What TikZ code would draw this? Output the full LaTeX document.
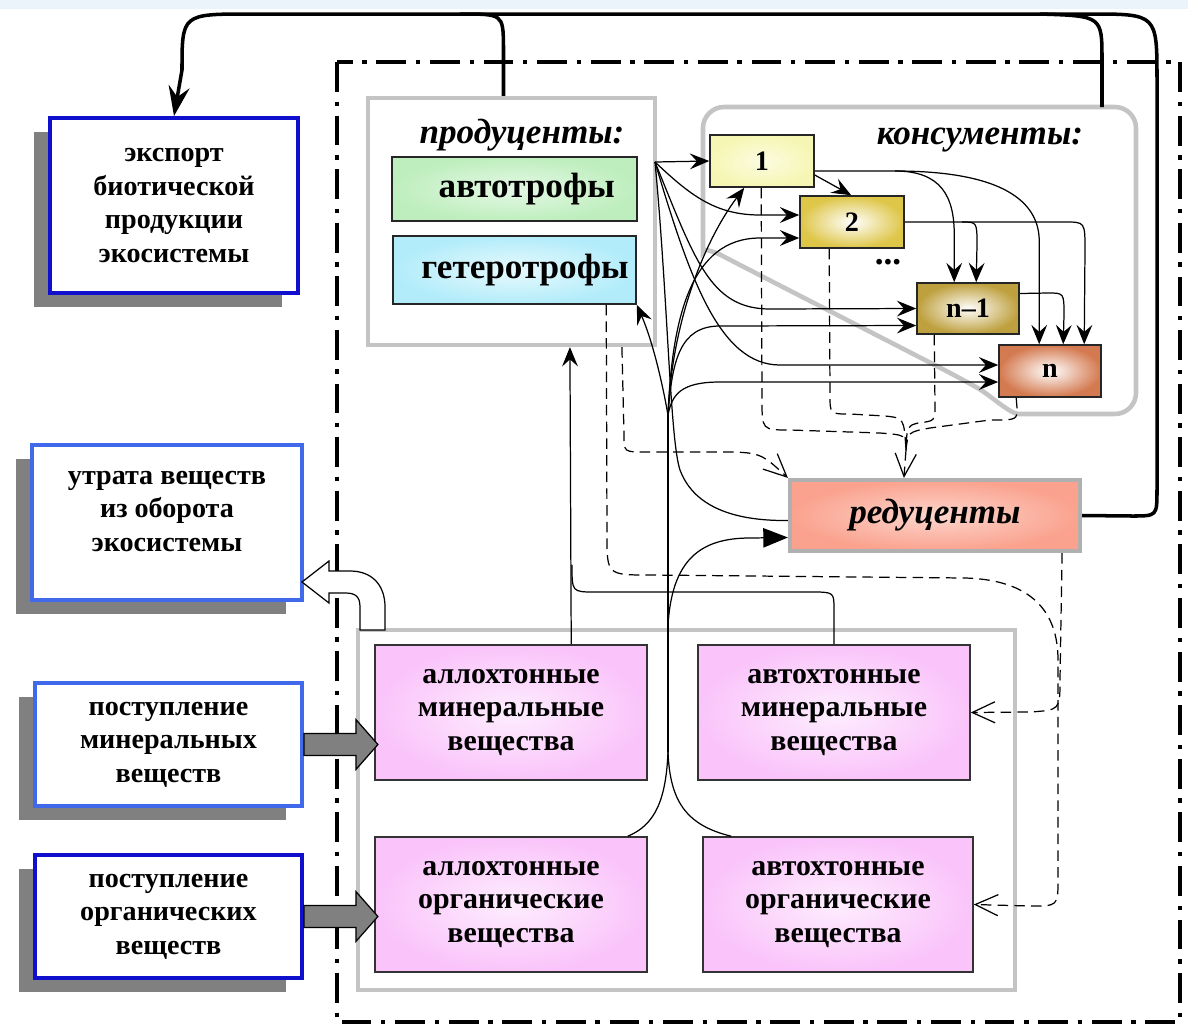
\documentclass[tikz,border=0pt]{standalone}
\usepackage{fontspec}
\setmainfont{Liberation Serif}
\usetikzlibrary{arrows.meta,calc,positioning,shadows}
\definecolor{deepblue}{RGB}{15,15,205}
\definecolor{softblue}{RGB}{65,105,235}
\definecolor{shadowgray}{RGB}{128,128,128}
\definecolor{framegray}{RGB}{196,196,196}
\definecolor{autogreen}{RGB}{190,238,190}
\definecolor{hetcyan}{RGB}{178,236,250}
\definecolor{firstyellow}{RGB}{246,246,180}
\definecolor{secondyellow}{RGB}{222,198,72}
\definecolor{olivegold}{RGB}{190,160,62}
\definecolor{rustorange}{RGB}{212,122,80}
\definecolor{salmon}{RGB}{250,162,142}
\definecolor{lilac}{RGB}{250,196,250}
\definecolor{topstrip}{RGB}{234,244,250}

\begin{document}
\begin{tikzpicture}[x=0.02cm,y=-0.02cm,>={Stealth[length=11pt,width=9pt,inset=4pt]}]
    \tikzstyle{outbox}=[draw,line width=2.2pt,fill=white,inner sep=0pt,align=center,
        font=\fontsize{16}{19}\selectfont\bfseries,
        drop shadow={shadow xshift=-0.32cm,shadow yshift=-0.28cm,fill=shadowgray,opacity=1}]
    \tikzstyle{grayframe}=[draw=framegray,line width=2.4pt,fill=white,inner sep=0pt]
    \tikzstyle{subbox}=[draw=black!85,line width=0.9pt,inner sep=0pt,align=center,
        font=\fontsize{20}{24}\selectfont\bfseries]
    \tikzstyle{consbox}=[draw=black!85,line width=0.9pt,inner sep=0pt,
        font=\fontsize{16}{19}\selectfont\bfseries]
    \tikzstyle{lilacbox}=[draw=black!80,line width=0.9pt,inner sep=0pt,align=center,
        inner color=white!70!lilac,outer color=lilac,minimum width=5.44cm,minimum height=2.7cm,
        font=\fontsize{17}{19}\selectfont\bfseries]
    \tikzstyle{title}=[font=\fontsize{20}{24}\selectfont\bfseries\itshape]
    \tikzstyle{flow}=[line width=0.7pt]
    \tikzstyle{backflow}=[line width=0.7pt,dash pattern=on 6pt off 3.5pt]
    \tikzstyle{opentip}=[-{Straight Barb[length=13pt,width=12pt]}]
    \tikzstyle{loopline}=[line width=2pt]
    \tikzstyle{fatarrow}=[draw=black,line width=0.7pt,fill=shadowgray]

    \useasboundingbox (0,0) rectangle (1188,1029);
    \fill[topstrip] (0,0) rectangle (1188,9);

    % ecosystem boundary
    \draw[line width=2.2pt,dash pattern=on 17pt off 5.5pt on 2.5pt off 5.5pt] (337,62) rectangle (1180,1022);

    % consumers area
    \draw[framegray,line width=2.6pt,rounded corners=12pt] (703,230) -- (703,107) -- (1136,107) -- (1136,414) -- (1040,414)
        .. controls (1010,414) and (990,395) .. (960,378) -- (740,265) .. controls (715,252) and (703,248) .. cycle;
    \node[title] (constitle) at (980,140) {консументы:};

    % outside boxes
    \node[outbox,draw=deepblue,minimum width=4.96cm,minimum height=3.5cm] (exp) at (174,205.5)
        {экспорт\\биотической\\продукции\\экосистемы};
    \node[outbox,draw=softblue,minimum width=5.4cm,minimum height=3.1cm] (loss) at (167,522.5)
        {утрата веществ\\из оборота\\экосистемы\\[-6pt]};
    \node[outbox,draw=softblue,minimum width=5.34cm,minimum height=2.46cm] (inmin) at (168.5,744.5)
        {поступление\\минеральных\\веществ};
    \node[outbox,draw=deepblue,minimum width=5.34cm,minimum height=2.46cm] (inorg) at (168.5,916.5)
        {поступление\\органических\\веществ};

    % producers
    \node[grayframe,minimum width=5.74cm,minimum height=4.94cm] (prod) at (511.5,221.5) {};
    \node[title] (prodtitle) at (522,135) {продуценты:};
    \node[subbox,inner color=white!60!autogreen,outer color=autogreen,minimum width=4.9cm,minimum height=1.28cm] (auto) at (514.5,189) {\hspace{14pt}автотрофы};
    \node[subbox,inner color=white!70!hetcyan,outer color=hetcyan,minimum width=4.86cm,minimum height=1.36cm] (het) at (514.5,270) {\hspace{12pt}гетеротрофы};

    % consumers
    \node[consbox,inner color=white!60!firstyellow,outer color=firstyellow,minimum width=2.08cm,minimum height=1.04cm] (c1) at (762,161) {1};
    \node[consbox,inner color=white,outer color=secondyellow,minimum width=2.08cm,minimum height=1.04cm] (c2) at (852,222) {2};
    \node[font=\fontsize{20}{24}\selectfont\bfseries] (dots) at (888,262) {...};
    \node[consbox,inner color=white,outer color=olivegold,minimum width=2.04cm,minimum height=1.02cm] (cn1) at (968,308.5) {n–1};
    \node[consbox,inner color=white,outer color=rustorange,minimum width=2.04cm,minimum height=1.04cm] (cn) at (1050,371) {n};

    % reducers
    \node[draw=framegray!90!black,line width=2.4pt,inner color=white!55!salmon,outer color=salmon,
        minimum width=5.8cm,minimum height=1.42cm,title] (red) at (935,515.5) {редуценты};

    % matter pool
    \node[grayframe,minimum width=13.14cm,minimum height=7.2cm] (grp) at (686.5,810) {};
    \node[lilacbox] (allmin) at (511,712.5) {аллохтонные\\минеральные\\вещества};
    \node[lilacbox] (autmin) at (834,712.5) {автохтонные\\минеральные\\вещества};
    \node[lilacbox] (allorg) at (511,904.5) {аллохтонные\\органические\\вещества};
    \node[lilacbox,minimum width=5.4cm] (autorg) at (838,904.5) {автохтонные\\органические\\вещества};

    % export loop
    \draw[loopline,-{Stealth[length=17pt,width=12pt,inset=6pt]}] (red.east) -- (1132,516) .. controls (1157,516) .. (1157,490)
        -- (1157,80) .. controls (1157,14) .. (1090,14) -- (250,14) .. controls (182,14) .. (182,70) -- (exp.north);
    \draw[loopline] (1102,107) -- (1102,60) .. controls (1102,16) .. (1040,14);
    \draw[loopline] ($(prod.north)+(-8,0)$) -- ++(0,-50) .. controls (503,14) .. (460,14);

    % producers to consumers
    \coordinate (P) at (655,162);
    \draw[flow,->] (P) -- (c1.west);
    \draw[flow,->] (P) .. controls (690,195) and (715,215) .. (760,215) -- ($(c2.west)+(0,-7)$);
    \draw[flow,->] (P) .. controls (695,260) and (710,309) .. (770,309) -- (cn1.west);
    \draw[flow,->] (P) .. controls (690,280) and (720,365) .. (780,365) -- ($(cn.west)+(0,-6)$);
    \draw[flow] (P) .. controls (668,300) and (670,440) .. (680,470) .. controls (695,510) and (740,521) .. ($(red.west)+(0,5)$);

    % organic matter uptake
    \coordinate (F) at (668,415);
    \coordinate (J) at (668,752);
    \coordinate (K) at (668,625);
    \draw[flow] ($(allorg.north east)+(-20,0)$) .. controls (655,825) and (666,800) .. (J);
    \draw[flow] ($(autorg.north west)+(29,0)$) .. controls (685,825) and (670,800) .. (J);
    \draw[flow] (J) -- (F);
    \draw[flow,->] (F) .. controls (660,370) and (650,335) .. (het.south east);
    \draw[flow,->] (F) .. controls (672,320) and (705,240) .. ($(c1.south west)+(35,0)$);
    \draw[flow,->] (F) .. controls (672,320) and (690,238) .. (760,238) -- ($(c2.west)+(0,16)$);
    \draw[flow,->] (F) .. controls (672,360) and (680,326) .. (720,326) -- ($(cn1.west)+(0,17)$);
    \draw[flow,->] (F) .. controls (672,395) and (680,382) .. (720,382) -- ($(cn.west)+(0,11)$);
    \draw[flow,-{Triangle[length=14pt,width=11pt]}] (K) .. controls (672,560) and (700,538) .. (750,538) -- ($(red.west)+(0,22)$);

    % minerals to producers
    \draw[flow,->] ($(allmin.north west)+(197,0)$) -- ($(prod.south west)+(204,0)$);
    \draw[flow] (autmin.north) -- ++(0,-35) .. controls (834,592) .. (810,592) -- (595,592) .. controls (572,592) .. (572,565);

    % consumers food chain
    \draw[flow,->] ($(c1.east)+(0,14)$) -- ($(c2.north west)+(52,0)$);
    \draw[flow,->] ($(c1.east)+(0,10)$) -- (895,171) .. controls (940,171) and (955,195) .. ($(cn1.north west)+(38,-45)$) -- ($(cn1.north west)+(38,0)$);
    \draw[flow,->] (895,171) .. controls (1000,171) and (1041,200) .. ($(cn.north west)+(41,-100)$) -- ($(cn.north west)+(41,0)$);
    \draw[flow,->] (c2.east) -- (962,222) .. controls (977,222) .. (977,245) -- ($(cn1.north west)+(60,0)$);
    \draw[flow,->] (962,222) -- (1065,222) .. controls (1085,222) .. (1085,250) -- ($(cn.north west)+(86,0)$);
    \draw[flow,->] ($(cn1.east)+(0,-15)$) -- (1048,293) .. controls (1064,293) .. (1064,315) -- ($(cn.north west)+(65,0)$);

    % dead matter to reducers
    \coordinate (M) at (906,450);
    \draw[backflow] ($(c1.south west)+(52,0)$) -- (762,400) .. controls (762,430) .. (790,430) -- (880,433) .. controls (906,435) .. (M);
    \draw[backflow] ($(c2.south west)+(30,0)$) -- (830,395) .. controls (830,414) .. (850,414) -- (885,416) .. controls (904,418) .. (M);
    \draw[backflow] ($(cn1.south west)+(18,0)$) -- (935,405) .. controls (935,421) .. (918,423) .. controls (907,426) .. (M);
    \draw[backflow] ($(cn.south west)+(18,0)$) -- (1017,408) .. controls (1017,420) .. (990,420) -- (930,428) .. controls (908,432) .. (M);
    \draw[backflow,opentip] (M) -- ($(red.north west)+(116,0)$);
    \draw[backflow,opentip] ($(prod.south west)+(256,0)$) -- (624,435) .. controls (624,452) .. (645,452) -- (715,452) .. controls (760,452) .. (red.north west);

    % back to the matter pool
    \draw[backflow,opentip] ($(het.south west)+(214,0)$) -- (607,535) .. controls (607,575) .. (650,575) -- (965,578)
        .. controls (1040,580) and (1058,620) .. (1058,660) -- (1058,880) .. controls (1058,906) .. (1030,906) -- (autorg.east);
    \draw[backflow,opentip] ($(red.south east)+(-20,0)$) -- (1060,680) .. controls (1060,710) .. (1030,712) -- (autmin.east);

    % inputs and losses
    \draw[fatarrow] (inmin.east) ++(0,-11) -- ++(52,0) -- ++(0,-14) -- ++(22,25) -- ++(-22,25) -- ++(0,-14) -- ++(-52,0) -- cycle;
    \draw[fatarrow] (inorg.east) ++(0,-11) -- ++(52,0) -- ++(0,-14) -- ++(22,25) -- ++(-22,25) -- ++(0,-14) -- ++(-52,0) -- cycle;
    \draw[fill=white,line width=0.7pt] (360,630) -- (360,607) .. controls (360,596) and (355,593) .. (345,593) -- (329,593) -- (329,603)
        -- (302,582) -- (329,561) -- (329,571) -- (350,571) .. controls (372,571) and (385,585) .. (385,607) -- (385,630) -- cycle;
\end{tikzpicture}
\end{document}
